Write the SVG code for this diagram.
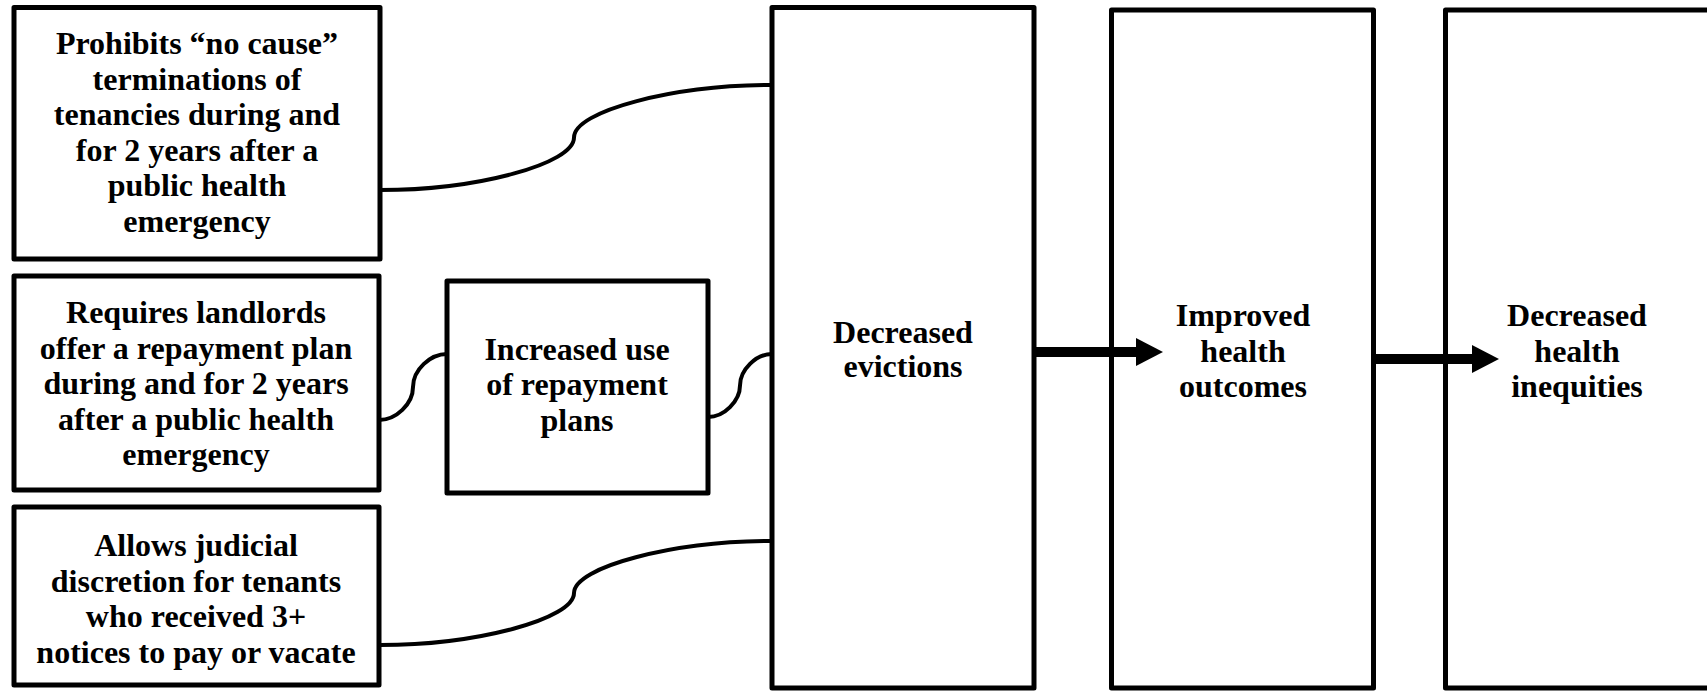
<svg xmlns="http://www.w3.org/2000/svg" width="1707" height="691" viewBox="0 0 1707 691">
<style>
.box{fill:#fff;stroke:#000;stroke-width:5;stroke-linejoin:round}
.t{font-family:"Liberation Serif","Times New Roman",serif;font-weight:bold;font-size:32px;fill:#000;text-anchor:middle}
.con{fill:none;stroke:#000;stroke-width:4}
.arr{fill:none;stroke:#000;stroke-width:10}
</style>
<defs>
<marker id="ah" markerUnits="userSpaceOnUse" markerWidth="28" markerHeight="28" refX="0" refY="14" orient="auto" viewBox="0 0 28 28">
<path d="M0,0 L27,14 L0,28 Z" fill="#000"/>
</marker>
</defs>
<g id="n1"><rect class="box" x="14" y="7.5" width="366" height="251.5"/>
<text class="t" x="197" y="54">Prohibits “no cause”</text>
<text class="t" x="197" y="90">terminations of</text>
<text class="t" x="197" y="125">tenancies during and</text>
<text class="t" x="197" y="161">for 2 years after a</text>
<text class="t" x="197" y="196">public health</text>
<text class="t" x="197" y="232">emergency</text></g>
<g id="n2"><rect class="box" x="14" y="276" width="365" height="214"/>
<text class="t" x="196" y="323">Requires landlords</text>
<text class="t" x="196" y="359">offer a repayment plan</text>
<text class="t" x="196" y="394">during and for 2 years</text>
<text class="t" x="196" y="430">after a public health</text>
<text class="t" x="196" y="465">emergency</text></g>
<g id="n3"><rect class="box" x="14" y="507" width="365" height="178"/>
<text class="t" x="196" y="556">Allows judicial</text>
<text class="t" x="196" y="592">discretion for tenants</text>
<text class="t" x="196" y="627">who received 3+</text>
<text class="t" x="196" y="663">notices to pay or vacate</text></g>
<g id="n4"><rect class="box" x="447" y="281" width="261" height="212"/>
<text class="t" x="577" y="360">Increased use</text>
<text class="t" x="577" y="395">of repayment</text>
<text class="t" x="577" y="431">plans</text></g>
<g id="n5"><rect class="box" x="772" y="7.5" width="262" height="680.5"/>
<text class="t" x="903" y="343">Decreased</text>
<text class="t" x="903" y="377">evictions</text></g>
<g id="n6"><rect class="box" x="1111.5" y="10" width="262" height="678"/>
<text class="t" x="1243" y="326">Improved</text>
<text class="t" x="1243" y="362">health</text>
<text class="t" x="1243" y="397">outcomes</text></g>
<g id="n7"><rect class="box" x="1445.5" y="10" width="264" height="678"/>
<text class="t" x="1577" y="326">Decreased</text>
<text class="t" x="1577" y="362">health</text>
<text class="t" x="1577" y="397">inequities</text></g>
<g id="connectors">
<path class="con" d="M380,190 C477,190 574,164 574,137.5 C574,111 673,85 772,85"/>
<path class="con" d="M379,420 C396,420 413,404 413,387 C413,370 430,354 447,354"/>
<path class="con" d="M708,417 C724,417 740,401 740,385.5 C740,370 756,354 772,354"/>
<path class="con" d="M380,645 C477,645 574,619 574,593 C574,567 673,541 772,541"/>
<path class="arr" d="M1034,352 H1136" marker-end="url(#ah)"/>
<path class="arr" d="M1373.5,359 H1472" marker-end="url(#ah)"/>
</g>
</svg>
